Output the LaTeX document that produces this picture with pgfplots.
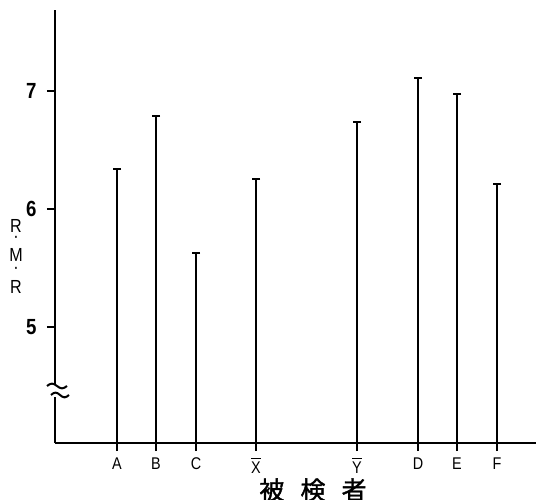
\documentclass[border=0pt]{standalone}
\usepackage{pgfplots}
\pgfplotsset{compat=1.18}
\usepackage{fontspec}
\setmainfont{Liberation Sans}[FakeStretch=0.85]
\newfontfamily\jp{Noto Sans CJK JP}[FakeBold=1.5]
\begin{document}
\begin{tikzpicture}
\begin{axis}[
  name=ax, scale only axis, width=240.5bp, height=216.5bp,
  xmin=55, xmax=536, ymin=4.017, ymax=7.686,
  axis x line=bottom, axis y line=left,
  axis line style={-, line width=1bp, black},
  xtick align=outside, ytick align=outside,
  major tick length=4bp,
  major tick style={line width=1bp, black},
  xtick={117,156,196,256,357,418,457,497},
  xticklabels={A,B,C,$\overline{\mbox{X}}$,$\overline{\mbox{Y}}$,D,E,F},
  ytick={5,6,7},
  /pgf/number format/assume math mode=true,
  xticklabel style={font=\fontsize{8.5}{9}\selectfont, inner sep=0pt, anchor=north, yshift=-3bp},
  yticklabel style={font=\bfseries\fontsize{11}{11}\selectfont, inner sep=0pt, anchor=east, xshift=-5bp},
  clip=false,
]
\addplot[ycomb, black, line width=1bp, mark=-, mark size=2bp, mark options={line width=1bp}]
  coordinates {(117,6.34) (156,6.79) (196,5.63) (256,6.25) (357,6.74) (418,7.11) (457,6.97) (497,6.21)};
\coordinate (O) at (axis cs:55,4.017);
\coordinate (B1) at (axis cs:55,4.500);
\coordinate (B2) at (axis cs:55,4.424);
\coordinate (L1) at (axis cs:16,5.856);
\coordinate (L2) at (axis cs:16,5.737);
\coordinate (L3) at (axis cs:16,5.610);
\coordinate (L4) at (axis cs:16,5.475);
\coordinate (L5) at (axis cs:16,5.339);
\coordinate (XL) at (axis cs:313,4.017);
\end{axis}
% ticks
\foreach \dx in {62,101,141,201,302,363,402,442}
  \draw[line width=1bp, black] ([xshift=\dx bp/2]O) -- ++(0,-4bp);
\foreach \dy in {116,234,352}
  \draw[line width=1bp, black] ([yshift=\dy bp/2]O) -- ++(-4bp,0);
% axis break
\fill[white] ([xshift=-3bp,yshift=0.5bp]B1) rectangle ([xshift=3bp,yshift=-1bp]B2);
\draw[line width=1bp] ([xshift=-4bp]B1) sin ++(2.5bp,1.2bp) cos ++(2.5bp,-1.2bp) sin ++(2.5bp,-1.2bp) cos ++(2.5bp,1.2bp);
\draw[line width=1bp] ([xshift=-2bp]B2) sin ++(2.25bp,1.2bp) cos ++(2.25bp,-1.2bp) sin ++(2.25bp,-1.2bp) cos ++(2.25bp,1.2bp);
% labels
\begin{scope}[every node/.style={inner sep=0pt, font=\fontsize{9.5}{9.5}\selectfont}]
\node at (L1) {R};
\node at (L2) {\raisebox{-2.6bp}{\smash{·}}};
\node at (L3) {M};
\node at (L4) {\raisebox{-2.6bp}{\smash{·}}};
\node at (L5) {R};
\end{scope}
\node[anchor=north, inner sep=0pt, font=\jp\fontsize{12.5}{12.5}\selectfont] at ([yshift=-17.5bp]XL) {被\hspace{0.65em}検\hspace{0.65em}者};
\pgfresetboundingbox
\path ([xshift=-27.5bp,yshift=-28.5bp]O) rectangle ++(268bp,250bp);
\end{tikzpicture}
\end{document}
